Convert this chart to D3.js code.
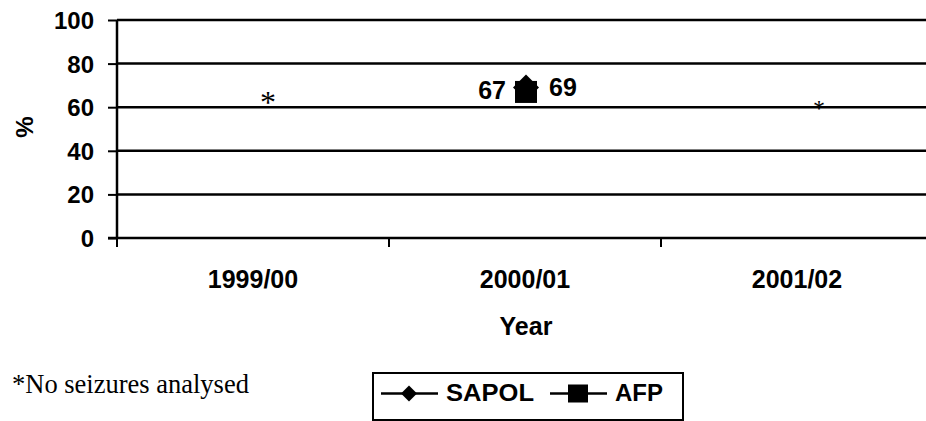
<!DOCTYPE html>
<html><head><meta charset="utf-8">
<script src="https://cdn.jsdelivr.net/npm/d3@7"></script>
<style>body{margin:0;background:#fff}svg{display:block}</style>
</head><body>
<svg id="c" width="926" height="421"></svg>
<script>
const categories = ["1999/00", "2000/01", "2001/02"];
const sapolValues = [null, 69, null];
const afpValues = [null, 67, null];
const yTicks = [0, 20, 40, 60, 80, 100];
const noDataCategories = ["1999/00", "2001/02"];
const legendNames = ["SAPOL", "AFP"];

const svg = d3.select("#c");
const L = 117, R = 933, T = 20, B = 238;
const x = d3.scaleBand().domain(categories).range([L, R]);
const y = d3.scaleLinear().domain([0, 100]).range([B, T]);
const bold = "'Liberation Sans', Arial, sans-serif";
const serif = "'Liberation Serif', 'Times New Roman', serif";

// gridlines
svg.append("g").selectAll("line").data(yTicks.filter(d => d > 0)).join("line")
  .attr("x1", L).attr("x2", 926).attr("y1", d => y(d)).attr("y2", d => y(d))
  .attr("stroke", "#000").attr("stroke-width", 2.5);

// y axis
const ya = svg.append("g").attr("transform", `translate(${L},0)`)
  .call(d3.axisLeft(y).tickValues(yTicks).tickSize(9).tickPadding(14));
ya.select(".domain").attr("stroke-width", 2.5).attr("d", `M0,${B + 1}V${T}`);
ya.selectAll(".tick line").attr("stroke-width", 2);
ya.selectAll("text").attr("font-family", bold).attr("font-weight", "bold").attr("font-size", 24).attr("fill", "#000")
  .attr("dy", "0.35em");

// x axis
const xa = svg.append("g").attr("transform", `translate(0,${B})`)
  .call(d3.axisBottom(x).tickSize(0));
xa.select(".domain").attr("stroke-width", 2.5).attr("d", `M${L - 9},0H926`);
xa.selectAll("text").attr("font-family", bold).attr("font-weight", "bold").attr("font-size", 25).attr("fill", "#000")
  .attr("dy", null).attr("y", 50);
svg.append("g").selectAll("line").data(categories).join("line")
  .attr("x1", d => x(d)).attr("x2", d => x(d)).attr("y1", B).attr("y2", B + 9)
  .attr("stroke", "#000").attr("stroke-width", 2);

// axis titles
svg.append("text").attr("x", x("2000/01") + x.bandwidth() / 2 + 1).attr("y", 335)
  .attr("text-anchor", "middle").attr("font-family", bold).attr("font-weight", "bold").attr("font-size", 25).text("Year");
svg.append("text").attr("transform", "translate(33,127) rotate(-90)")
  .attr("text-anchor", "middle").attr("font-family", bold).attr("font-weight", "bold").attr("font-size", 24).text("%");

const cx = d => x(d) + x.bandwidth() / 2 + 1;

// AFP squares
afpValues.forEach((v, i) => {
  if (v == null) return;
  const c = categories[i];
  svg.append("rect").attr("x", cx(c) - 11).attr("y", y(v) - 11).attr("width", 22).attr("height", 22).attr("fill", "#000");
  svg.append("text").attr("x", cx(c) - 20).attr("y", y(v) + 7).attr("text-anchor", "end")
    .attr("font-family", bold).attr("font-weight", "bold").attr("font-size", 25).text(v);
});
// SAPOL diamonds
sapolValues.forEach((v, i) => {
  if (v == null) return;
  const c = categories[i];
  const s = 13;
  svg.append("path").attr("d", `M${cx(c)},${y(v) - s}L${cx(c) + s},${y(v)}L${cx(c)},${y(v) + s}L${cx(c) - s},${y(v)}Z`).attr("fill", "#000");
  svg.append("text").attr("x", cx(c) + 23).attr("y", y(v) + 8).attr("text-anchor", "start")
    .attr("font-family", bold).attr("font-weight", "bold").attr("font-size", 25).text(v);
});

// "no seizures analysed" asterisks
const astFonts = [32, 24], astDx = [15, 22], astBase = [113, 116];
noDataCategories.forEach((c, i) => {
  svg.append("text").attr("x", x(c) + x.bandwidth() / 2 + astDx[i]).attr("y", astBase[i])
    .attr("text-anchor", "middle").attr("font-family", serif).attr("font-size", astFonts[i]).text("*");
});

// footnote
svg.append("text").attr("x", 12).attr("y", 393).attr("font-family", serif)
  .attr("font-size", 26.5).text("*No seizures analysed");

// legend
const lg = svg.append("g");
lg.append("rect").attr("x", 373).attr("y", 373).attr("width", 310).attr("height", 47)
  .attr("fill", "#fff").attr("stroke", "#000").attr("stroke-width", 2);
const lx = [381, 550], tw = [88, 48];
legendNames.forEach((name, i) => {
  const ly = 393.5, x0 = lx[i];
  lg.append("line").attr("x1", x0).attr("x2", x0 + 57).attr("y1", ly).attr("y2", ly).attr("stroke", "#000").attr("stroke-width", 2.5);
  const mx = x0 + 28;
  if (i === 0) {
    lg.append("path").attr("d", `M${mx},${ly - 8}L${mx + 8},${ly}L${mx},${ly + 8}L${mx - 8},${ly}Z`).attr("fill", "#000");
  } else {
    lg.append("rect").attr("x", mx - 10).attr("y", ly - 9).attr("width", 20).attr("height", 18).attr("fill", "#000");
  }
  lg.append("text").attr("x", x0 + 65).attr("y", 401).attr("font-family", bold).attr("font-weight", "bold")
    .attr("font-size", 24).attr("textLength", tw[i]).attr("lengthAdjust", "spacingAndGlyphs").text(name);
});
</script>
</body></html>
